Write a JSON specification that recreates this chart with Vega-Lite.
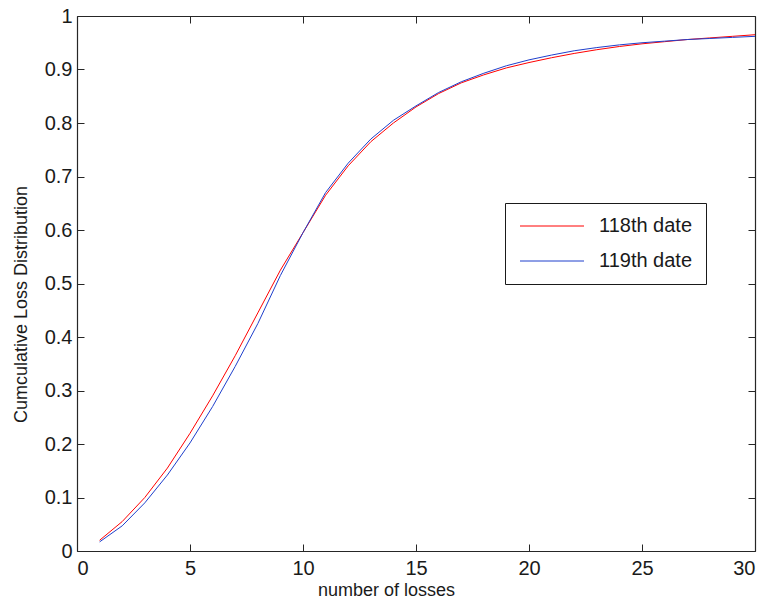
{
  "$schema": "https://vega.github.io/schema/vega-lite/v6.json",
  "width": 678,
  "height": 535,
  "autosize": {"type": "none"},
  "padding": {"left": 77, "top": 16, "right": 14, "bottom": 55},
  "background": "white",
  "config": {
    "view": {"stroke": null},
    "font": "Liberation Sans",
    "axis": {"grid": false, "domainColor": "#262626", "tickColor": "#262626", "labelColor": "#1a1a1a", "titleColor": "#1a1a1a", "labelFont": "Liberation Sans", "titleFont": "Liberation Sans", "labelFontSize": 20, "titleFontSize": 18, "titleFontWeight": "normal", "tickSize": -7, "domainWidth": 1.2, "tickWidth": 1, "format": "~g"}
  },
  "data": {"values": [
    {"n":1,"date":"118th date","p":0.020},{"n":2,"date":"118th date","p":0.055},{"n":3,"date":"118th date","p":0.100},{"n":4,"date":"118th date","p":0.155},{"n":5,"date":"118th date","p":0.220},{"n":6,"date":"118th date","p":0.290},{"n":7,"date":"118th date","p":0.365},{"n":8,"date":"118th date","p":0.445},{"n":9,"date":"118th date","p":0.525},{"n":10,"date":"118th date","p":0.595},{"n":11,"date":"118th date","p":0.665},{"n":12,"date":"118th date","p":0.720},{"n":13,"date":"118th date","p":0.765},{"n":14,"date":"118th date","p":0.800},{"n":15,"date":"118th date","p":0.830},{"n":16,"date":"118th date","p":0.855},{"n":17,"date":"118th date","p":0.875},{"n":18,"date":"118th date","p":0.890},{"n":19,"date":"118th date","p":0.903},{"n":20,"date":"118th date","p":0.913},{"n":21,"date":"118th date","p":0.922},{"n":22,"date":"118th date","p":0.930},{"n":23,"date":"118th date","p":0.937},{"n":24,"date":"118th date","p":0.943},{"n":25,"date":"118th date","p":0.948},{"n":26,"date":"118th date","p":0.952},{"n":27,"date":"118th date","p":0.956},{"n":28,"date":"118th date","p":0.959},{"n":29,"date":"118th date","p":0.962},{"n":30,"date":"118th date","p":0.965},
    {"n":1,"date":"119th date","p":0.017},{"n":2,"date":"119th date","p":0.047},{"n":3,"date":"119th date","p":0.090},{"n":4,"date":"119th date","p":0.142},{"n":5,"date":"119th date","p":0.202},{"n":6,"date":"119th date","p":0.270},{"n":7,"date":"119th date","p":0.345},{"n":8,"date":"119th date","p":0.425},{"n":9,"date":"119th date","p":0.515},{"n":10,"date":"119th date","p":0.595},{"n":11,"date":"119th date","p":0.670},{"n":12,"date":"119th date","p":0.725},{"n":13,"date":"119th date","p":0.770},{"n":14,"date":"119th date","p":0.805},{"n":15,"date":"119th date","p":0.832},{"n":16,"date":"119th date","p":0.857},{"n":17,"date":"119th date","p":0.877},{"n":18,"date":"119th date","p":0.893},{"n":19,"date":"119th date","p":0.907},{"n":20,"date":"119th date","p":0.918},{"n":21,"date":"119th date","p":0.927},{"n":22,"date":"119th date","p":0.935},{"n":23,"date":"119th date","p":0.941},{"n":24,"date":"119th date","p":0.946},{"n":25,"date":"119th date","p":0.950},{"n":26,"date":"119th date","p":0.953},{"n":27,"date":"119th date","p":0.956},{"n":28,"date":"119th date","p":0.958},{"n":29,"date":"119th date","p":0.960},{"n":30,"date":"119th date","p":0.962}
  ]},
  "resolve": {"axis": {"x": "independent", "y": "independent"}},
  "layer": [
    {
      "mark": {"type": "line", "strokeWidth": 1, "clip": true},
      "encoding": {
        "x": {"field": "n", "type": "quantitative", "scale": {"domain": [0, 30], "nice": false, "zero": false},
              "axis": {"orient": "bottom", "values": [0,5,10,15,20,25,30], "title": "number of losses", "labelPadding": 14, "titlePadding": 3, "titleX": 309}},
        "y": {"field": "p", "type": "quantitative", "scale": {"domain": [0, 1], "nice": false},
              "axis": {"orient": "left", "values": [0,0.1,0.2,0.3,0.4,0.5,0.6,0.7,0.8,0.9,1], "title": "Cumculative Loss Distribution", "labelPadding": 12, "titlePadding": 14, "titleY": 288}},
        "color": {"field": "date", "type": "nominal",
                  "scale": {"domain": ["118th date", "119th date"], "range": ["#ff0000", "#1f3fcc"]},
                  "legend": {"title": null, "orient": "none", "legendX": 428, "legendY": 187, "strokeColor": "#1a1a1a", "fillColor": "white", "padding": 13, "symbolType": "M-1,0H7", "symbolSize": 256, "symbolStrokeWidth": 1, "labelOffset": 61, "rowPadding": 15, "labelFontSize": 20, "labelFont": "Liberation Sans", "labelColor": "#1a1a1a"}}
      }
    },
    {
      "mark": {"type": "line", "opacity": 0},
      "encoding": {
        "x": {"field": "n", "type": "quantitative", "axis": {"orient": "top", "values": [0,5,10,15,20,25,30], "labels": false, "title": null}},
        "y": {"field": "p", "type": "quantitative", "axis": {"orient": "right", "values": [0,0.1,0.2,0.3,0.4,0.5,0.6,0.7,0.8,0.9,1], "labels": false, "title": null}},
        "detail": {"field": "date", "type": "nominal"}
      }
    }
  ]
}
